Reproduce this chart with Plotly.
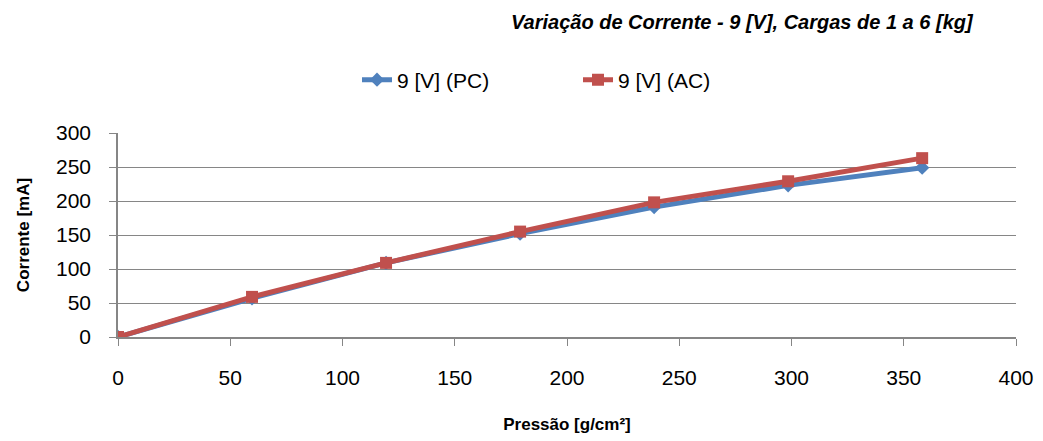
import plotly.graph_objects as go

# Pressure (g/cm²) for loads of 1 to 6 kg, plus the zero point
pressao = [0, 59.7, 119.4, 179.1, 238.8, 298.5, 358.2]
corrente_pc = [0, 57, 109, 152, 191, 223, 249]
corrente_ac = [0, 59, 109, 155, 198, 229, 263]

azul = "#4F81BD"
vermelho = "#C0504D"
cinza = "#868686"
fonte = "Liberation Sans"

fig = go.Figure()
fig.add_trace(go.Scatter(
    x=pressao, y=corrente_pc, name="9 [V] (PC)", mode="lines+markers",
    line=dict(color=azul, width=5),
    marker=dict(symbol="diamond", size=11, color=azul),
))
fig.add_trace(go.Scatter(
    x=pressao, y=corrente_ac, name="9 [V] (AC)", mode="lines+markers",
    line=dict(color=vermelho, width=5),
    marker=dict(symbol="square", size=12, color=vermelho),
))

fig.update_layout(
    width=1043, height=441,
    margin=dict(l=118, r=27, t=133, b=104),
    paper_bgcolor="white", plot_bgcolor="white",
    font=dict(family=fonte, color="black"),
    showlegend=True,
    legend=dict(
        orientation="h", x=(357 - 118) / 898, xanchor="left",
        y=(337 - 80) / 204, yanchor="middle",
        font=dict(size=21, family=fonte),
        entrywidth=176, entrywidthmode="pixels",
        bgcolor="rgba(0,0,0,0)",
    ),
    xaxis=dict(
        range=[0, 400], dtick=50, tick0=0, automargin=False,
        showgrid=False, zeroline=False,
        showline=True, linecolor=cinza, linewidth=1.5,
        ticks="outside", ticklen=7, tickcolor=cinza,
        ticklabelstandoff=14,
        tickfont=dict(size=21, family=fonte),
        title=dict(text="<b>Pressão [g/cm²]</b>", font=dict(size=17, family=fonte), standoff=30),
    ),
    yaxis=dict(
        range=[0, 300], dtick=50, tick0=0, automargin=False,
        showgrid=True, gridcolor=cinza, gridwidth=1.2,
        zeroline=False,
        showline=True, linecolor=cinza, linewidth=1.5,
        ticks="outside", ticklen=7, tickcolor=cinza,
        ticklabelstandoff=14,
        tickfont=dict(size=21, family=fonte),
        title=dict(text="<b>Corrente [mA]</b>", font=dict(size=17, family=fonte), standoff=22),
    ),
    annotations=[dict(
        text="<b><i>Variação de Corrente - 9 [V], Cargas de 1 a 6 [kg]</i></b>",
        xref="paper", yref="paper", x=(976 - 118) / 898, y=(337 - 22) / 204,
        xanchor="right", yanchor="middle", showarrow=False,
        font=dict(size=20, family=fonte, color="black"),
    )],
)

fig.write_html("out.html")
